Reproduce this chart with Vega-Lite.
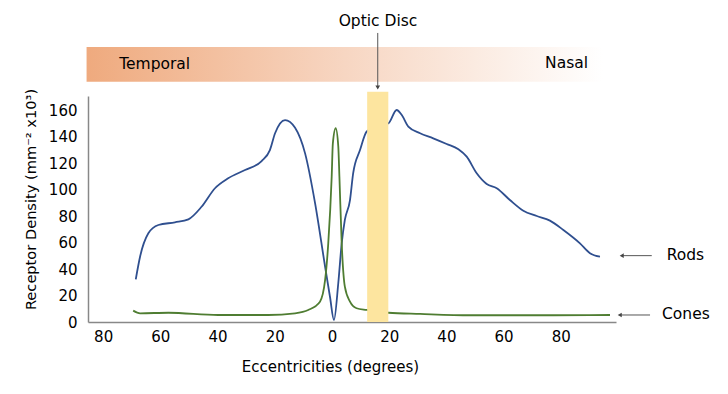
{
  "$schema": "https://vega.github.io/schema/vega-lite/v6.json",
  "width": 528,
  "height": 226,
  "autosize": {"type": "none"},
  "padding": {"left": 88, "top": 96, "right": 112, "bottom": 72},
  "background": "white",
  "config": {
    "font": "DejaVu Sans",
    "view": {"stroke": null},
    "axis": {"labelFont": "DejaVu Sans", "titleFont": "DejaVu Sans", "labelColor": "#000", "titleColor": "#000", "titleFontWeight": "normal", "labelFontSize": 15, "titleFontSize": 15, "ticks": false, "grid": false, "domainColor": "#888", "domainWidth": 1.5, "labelOverlap": false},
    "axisX": {"labelPadding": 7, "titlePadding": 15, "tickCount": 9, "titleX": 242, "titleAlign": "center"},
    "axisY": {"labelPadding": 11, "titlePadding": 10, "tickCount": 9, "titleY": 103, "titleFontSize": 14.6}
  },
  "datasets": {
    "curves": [
      {"cell": "Rods", "x": -68.6, "y": 32.3},
      {"cell": "Rods", "x": -67.1, "y": 49.4},
      {"cell": "Rods", "x": -64.2, "y": 67.1},
      {"cell": "Rods", "x": -60.7, "y": 73.4},
      {"cell": "Rods", "x": -54.9, "y": 75.4},
      {"cell": "Rods", "x": -50.2, "y": 77.7},
      {"cell": "Rods", "x": -45.6, "y": 87.2},
      {"cell": "Rods", "x": -40.9, "y": 101.2},
      {"cell": "Rods", "x": -36.3, "y": 108.7},
      {"cell": "Rods", "x": -30.4, "y": 115.0},
      {"cell": "Rods", "x": -24.6, "y": 121.8},
      {"cell": "Rods", "x": -21.7, "y": 130.1},
      {"cell": "Rods", "x": -19.9, "y": 142.8},
      {"cell": "Rods", "x": -16.4, "y": 152.8},
      {"cell": "Rods", "x": -12.9, "y": 147.0},
      {"cell": "Rods", "x": -9.4, "y": 127.6},
      {"cell": "Rods", "x": -5.9, "y": 89.8},
      {"cell": "Rods", "x": -2.4, "y": 41.8},
      {"cell": "Rods", "x": -0.7, "y": 19.1},
      {"cell": "Rods", "x": 0.7, "y": 1.5},
      {"cell": "Rods", "x": 2.2, "y": 29.3},
      {"cell": "Rods", "x": 3.4, "y": 59.5},
      {"cell": "Rods", "x": 4.5, "y": 77.2},
      {"cell": "Rods", "x": 6.3, "y": 92.3},
      {"cell": "Rods", "x": 7.4, "y": 112.5},
      {"cell": "Rods", "x": 9.8, "y": 130.1},
      {"cell": "Rods", "x": 12.1, "y": 144.0},
      {"cell": "Rods", "x": 16.0, "y": 149.0},
      {"cell": "Rods", "x": 19.7, "y": 150.3},
      {"cell": "Rods", "x": 22.6, "y": 160.4},
      {"cell": "Rods", "x": 24.4, "y": 156.6},
      {"cell": "Rods", "x": 26.7, "y": 147.8},
      {"cell": "Rods", "x": 30.8, "y": 142.8},
      {"cell": "Rods", "x": 35.4, "y": 139.0},
      {"cell": "Rods", "x": 40.1, "y": 134.7},
      {"cell": "Rods", "x": 44.2, "y": 130.7},
      {"cell": "Rods", "x": 47.1, "y": 125.1},
      {"cell": "Rods", "x": 50.6, "y": 112.5},
      {"cell": "Rods", "x": 54.1, "y": 104.4},
      {"cell": "Rods", "x": 57.6, "y": 101.2},
      {"cell": "Rods", "x": 62.2, "y": 92.3},
      {"cell": "Rods", "x": 66.9, "y": 84.2},
      {"cell": "Rods", "x": 71.6, "y": 80.2},
      {"cell": "Rods", "x": 76.2, "y": 76.7},
      {"cell": "Rods", "x": 80.9, "y": 69.6},
      {"cell": "Rods", "x": 86.7, "y": 59.5},
      {"cell": "Rods", "x": 90.2, "y": 52.0},
      {"cell": "Rods", "x": 93.7, "y": 49.4},
      {"cell": "Cones", "x": -69.5, "y": 8.6},
      {"cell": "Cones", "x": -67.1, "y": 6.6},
      {"cell": "Cones", "x": -57.2, "y": 7.0},
      {"cell": "Cones", "x": -39.8, "y": 5.3},
      {"cell": "Cones", "x": -22.3, "y": 5.3},
      {"cell": "Cones", "x": -12.9, "y": 6.6},
      {"cell": "Cones", "x": -8.3, "y": 9.1},
      {"cell": "Cones", "x": -4.2, "y": 15.4},
      {"cell": "Cones", "x": -2.4, "y": 31.8},
      {"cell": "Cones", "x": -1.3, "y": 59.5},
      {"cell": "Cones", "x": -0.1, "y": 109.9},
      {"cell": "Cones", "x": 0.3, "y": 135.0},
      {"cell": "Cones", "x": 1.3, "y": 146.6},
      {"cell": "Cones", "x": 2.2, "y": 133.0},
      {"cell": "Cones", "x": 2.6, "y": 109.9},
      {"cell": "Cones", "x": 3.4, "y": 59.5},
      {"cell": "Cones", "x": 4.5, "y": 26.7},
      {"cell": "Cones", "x": 6.3, "y": 15.4},
      {"cell": "Cones", "x": 8.6, "y": 10.4},
      {"cell": "Cones", "x": 12.1, "y": 9.1},
      {"cell": "Cones", "x": 19.7, "y": 7.0},
      {"cell": "Cones", "x": 30.8, "y": 6.1},
      {"cell": "Cones", "x": 48.3, "y": 5.1},
      {"cell": "Cones", "x": 77.4, "y": 5.1},
      {"cell": "Cones", "x": 97.2, "y": 5.3}
    ]
  },
  "layer": [
    {
      "data": {"name": "curves"},
      "mark": {"type": "line", "interpolate": "monotone", "strokeWidth": 1.8},
      "encoding": {
        "x": {
          "field": "x", "type": "quantitative",
          "scale": {"domain": [-85.3, 99.3], "nice": false, "zero": false},
          "axis": {"values": [-80, -60, -40, -20, 0, 20, 40, 60, 80], "labelExpr": "format(abs(datum.value), 'd')", "title": "Eccentricities (degrees)"}
        },
        "y": {
          "field": "y", "type": "quantitative",
          "scale": {"domain": [0, 171], "nice": false},
          "axis": {"values": [0, 20, 40, 60, 80, 100, 120, 140, 160], "title": "Receptor Density (mm⁻² x10³)"}
        },
        "color": {"field": "cell", "type": "nominal", "scale": {"domain": ["Rods", "Cones"], "range": ["#2f4f8f", "#4f7d32"]}, "legend": null},
        "detail": {"field": "cell"}
      }
    },
    {
      "data": {"values": [{}]},
      "mark": {"type": "rect", "fill": {"gradient": "linear", "x1": 0, "x2": 1, "y1": 0, "y2": 0, "stops": [{"offset": 0, "color": "#efaa7e"}, {"offset": 0.5, "color": "#f7d6c2"}, {"offset": 1, "color": "#ffffff"}]}},
      "encoding": {
        "x": {"datum": -85.8, "type": "quantitative", "axis": {"values": [-80, -60, -40, -20, 0, 20, 40, 60, 80], "labelExpr": "format(abs(datum.value), 'd')", "title": "Eccentricities (degrees)"}},
        "x2": {"datum": 94.8},
        "y": {"datum": 181.8, "type": "quantitative", "axis": {"values": [0, 20, 40, 60, 80, 100, 120, 140, 160], "title": "Receptor Density (mm⁻² x10³)"}},
        "y2": {"datum": 208.1}
      }
    },
    {
      "data": {"values": [{}]},
      "mark": {"type": "rect", "fill": "#fde59f"},
      "encoding": {
        "x": {"datum": 12.3, "type": "quantitative", "axis": {"values": [-80, -60, -40, -20, 0, 20, 40, 60, 80], "labelExpr": "format(abs(datum.value), 'd')", "title": "Eccentricities (degrees)"}},
        "x2": {"datum": 19.7},
        "y": {"datum": 0, "type": "quantitative", "axis": {"values": [0, 20, 40, 60, 80, 100, 120, 140, 160], "title": "Receptor Density (mm⁻² x10³)"}},
        "y2": {"datum": 174.3}
      }
    },
    {
      "data": {"values": [{}]},
      "mark": {"type": "text", "align": "left", "baseline": "middle", "fontSize": 15.5, "color": "#000"},
      "encoding": {
        "x": {"datum": -74.4, "type": "quantitative", "axis": {"values": [-80, -60, -40, -20, 0, 20, 40, 60, 80], "labelExpr": "format(abs(datum.value), 'd')", "title": "Eccentricities (degrees)"}},
        "y": {"datum": 195.2, "type": "quantitative", "axis": {"values": [0, 20, 40, 60, 80, 100, 120, 140, 160], "title": "Receptor Density (mm⁻² x10³)"}},
        "text": {"value": "Temporal"}
      }
    },
    {
      "data": {"values": [{}]},
      "mark": {"type": "text", "align": "left", "baseline": "middle", "fontSize": 15.5, "color": "#000"},
      "encoding": {
        "x": {"datum": 74.5, "type": "quantitative", "axis": {"values": [-80, -60, -40, -20, 0, 20, 40, 60, 80], "labelExpr": "format(abs(datum.value), 'd')", "title": "Eccentricities (degrees)"}},
        "y": {"datum": 196.2, "type": "quantitative", "axis": {"values": [0, 20, 40, 60, 80, 100, 120, 140, 160], "title": "Receptor Density (mm⁻² x10³)"}},
        "text": {"value": "Nasal"}
      }
    },
    {
      "data": {"values": [{}]},
      "mark": {"type": "text", "align": "center", "baseline": "middle", "fontSize": 15.5, "color": "#000"},
      "encoding": {
        "x": {"datum": 16.1, "type": "quantitative", "axis": {"values": [-80, -60, -40, -20, 0, 20, 40, 60, 80], "labelExpr": "format(abs(datum.value), 'd')", "title": "Eccentricities (degrees)"}},
        "y": {"datum": 228, "type": "quantitative", "axis": {"values": [0, 20, 40, 60, 80, 100, 120, 140, 160], "title": "Receptor Density (mm⁻² x10³)"}},
        "text": {"value": "Optic Disc"}
      }
    },
    {
      "data": {"values": [{}]},
      "mark": {"type": "text", "align": "left", "baseline": "middle", "fontSize": 15.5, "color": "#000"},
      "encoding": {
        "x": {"datum": 117, "type": "quantitative", "axis": {"values": [-80, -60, -40, -20, 0, 20, 40, 60, 80], "labelExpr": "format(abs(datum.value), 'd')", "title": "Eccentricities (degrees)"}},
        "y": {"datum": 50.7, "type": "quantitative", "axis": {"values": [0, 20, 40, 60, 80, 100, 120, 140, 160], "title": "Receptor Density (mm⁻² x10³)"}},
        "text": {"value": "Rods"}
      }
    },
    {
      "data": {"values": [{}]},
      "mark": {"type": "text", "align": "left", "baseline": "middle", "fontSize": 15.5, "color": "#000"},
      "encoding": {
        "x": {"datum": 115.4, "type": "quantitative", "axis": {"values": [-80, -60, -40, -20, 0, 20, 40, 60, 80], "labelExpr": "format(abs(datum.value), 'd')", "title": "Eccentricities (degrees)"}},
        "y": {"datum": 6.1, "type": "quantitative", "axis": {"values": [0, 20, 40, 60, 80, 100, 120, 140, 160], "title": "Receptor Density (mm⁻² x10³)"}},
        "text": {"value": "Cones"}
      }
    },
    {
      "data": {"values": [{}]},
      "mark": {"type": "rule", "color": "#555", "strokeWidth": 1},
      "encoding": {
        "x": {"datum": 16.0, "type": "quantitative", "axis": {"values": [-80, -60, -40, -20, 0, 20, 40, 60, 80], "labelExpr": "format(abs(datum.value), 'd')", "title": "Eccentricities (degrees)"}},
        "y": {"datum": 218.7, "type": "quantitative", "axis": {"values": [0, 20, 40, 60, 80, 100, 120, 140, 160], "title": "Receptor Density (mm⁻² x10³)"}},
        "y2": {"datum": 177}
      }
    },
    {
      "data": {"values": [{}]},
      "mark": {"type": "point", "shape": "triangle-down", "filled": true, "size": 22, "color": "#444", "opacity": 1},
      "encoding": {
        "x": {"datum": 16.0, "type": "quantitative", "axis": {"values": [-80, -60, -40, -20, 0, 20, 40, 60, 80], "labelExpr": "format(abs(datum.value), 'd')", "title": "Eccentricities (degrees)"}},
        "y": {"datum": 177.5, "type": "quantitative", "axis": {"values": [0, 20, 40, 60, 80, 100, 120, 140, 160], "title": "Receptor Density (mm⁻² x10³)"}}
      }
    },
    {
      "data": {"values": [{}]},
      "mark": {"type": "rule", "color": "#555", "strokeWidth": 1},
      "encoding": {
        "x": {"datum": 111.8, "type": "quantitative", "axis": {"values": [-80, -60, -40, -20, 0, 20, 40, 60, 80], "labelExpr": "format(abs(datum.value), 'd')", "title": "Eccentricities (degrees)"}},
        "x2": {"datum": 101.5},
        "y": {"datum": 50.2, "type": "quantitative", "axis": {"values": [0, 20, 40, 60, 80, 100, 120, 140, 160], "title": "Receptor Density (mm⁻² x10³)"}}
      }
    },
    {
      "data": {"values": [{}]},
      "mark": {"type": "point", "shape": "triangle-left", "filled": true, "size": 22, "color": "#444", "opacity": 1},
      "encoding": {
        "x": {"datum": 101.3, "type": "quantitative", "axis": {"values": [-80, -60, -40, -20, 0, 20, 40, 60, 80], "labelExpr": "format(abs(datum.value), 'd')", "title": "Eccentricities (degrees)"}},
        "y": {"datum": 50.2, "type": "quantitative", "axis": {"values": [0, 20, 40, 60, 80, 100, 120, 140, 160], "title": "Receptor Density (mm⁻² x10³)"}}
      }
    },
    {
      "data": {"values": [{}]},
      "mark": {"type": "rule", "color": "#555", "strokeWidth": 1},
      "encoding": {
        "x": {"datum": 111.2, "type": "quantitative", "axis": {"values": [-80, -60, -40, -20, 0, 20, 40, 60, 80], "labelExpr": "format(abs(datum.value), 'd')", "title": "Eccentricities (degrees)"}},
        "x2": {"datum": 100.8},
        "y": {"datum": 5.3, "type": "quantitative", "axis": {"values": [0, 20, 40, 60, 80, 100, 120, 140, 160], "title": "Receptor Density (mm⁻² x10³)"}}
      }
    },
    {
      "data": {"values": [{}]},
      "mark": {"type": "point", "shape": "triangle-left", "filled": true, "size": 22, "color": "#444", "opacity": 1},
      "encoding": {
        "x": {"datum": 100.6, "type": "quantitative", "axis": {"values": [-80, -60, -40, -20, 0, 20, 40, 60, 80], "labelExpr": "format(abs(datum.value), 'd')", "title": "Eccentricities (degrees)"}},
        "y": {"datum": 5.3, "type": "quantitative", "axis": {"values": [0, 20, 40, 60, 80, 100, 120, 140, 160], "title": "Receptor Density (mm⁻² x10³)"}}
      }
    }
  ]
}
